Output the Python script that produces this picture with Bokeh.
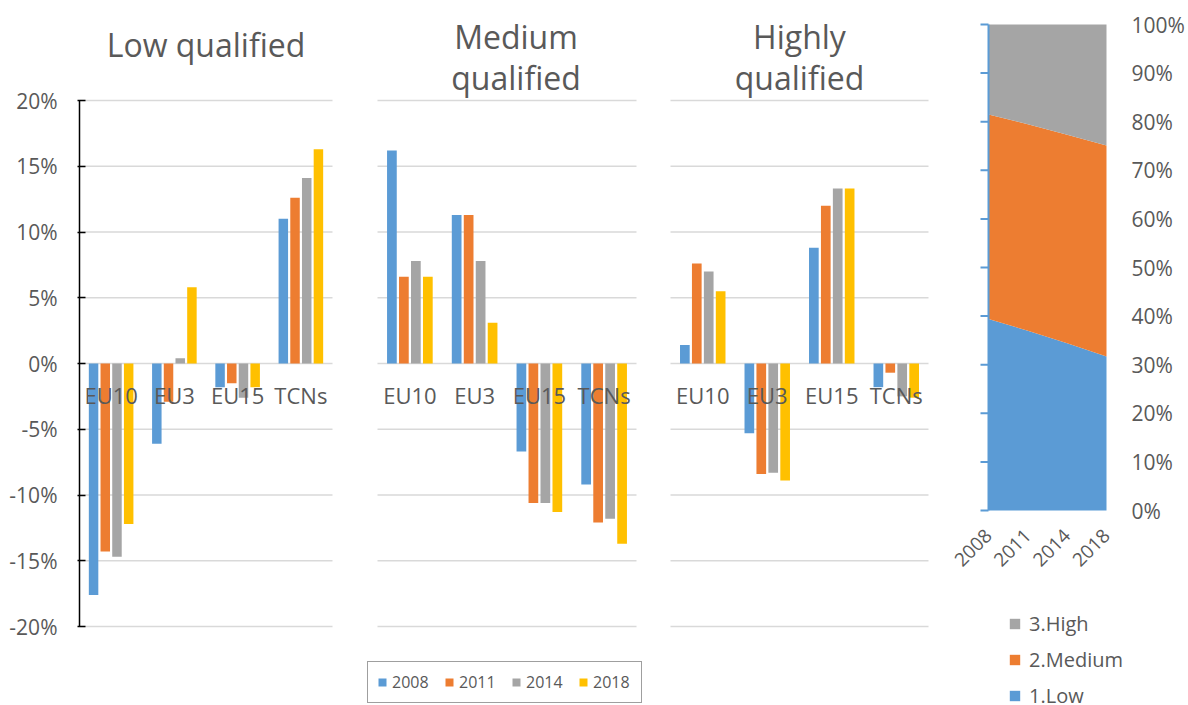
import math

import numpy as np
from bokeh.embed import file_html
from bokeh.resources import INLINE
from bokeh.layouts import row
from bokeh.plotting import figure
from bokeh.models import (ColumnDataSource, Range1d, FixedTicker, PrintfTickFormatter,
                          Legend, LegendItem)
from bokeh.core.properties import value

# ---- data -------------------------------------------------------------
categories = ["EU10", "EU3", "EU15", "TCNs"]
years = ["2008", "2011", "2014", "2018"]

# change in share, percentage points, by origin group
low_2008 = [-17.6, -6.1, -1.8, 11.0]
low_2011 = [-14.3, -2.9, -1.5, 12.6]
low_2014 = [-14.7, 0.4, -2.6, 14.1]
low_2018 = [-12.2, 5.8, -1.8, 16.3]

med_2008 = [16.2, 11.3, -6.7, -9.2]
med_2011 = [6.6, 11.3, -10.6, -12.1]
med_2014 = [7.8, 7.8, -10.6, -11.8]
med_2018 = [6.6, 3.1, -11.3, -13.7]

high_2008 = [1.4, -5.3, 8.8, -1.8]
high_2011 = [7.6, -8.4, 12.0, -0.7]
high_2014 = [7.0, -8.3, 13.3, -2.5]
high_2018 = [5.5, -8.9, 13.3, -2.6]

# qualification mix, percent of total
mix_years = ["2008", "2011", "2014", "2018"]
mix_low = [39.4, 37.0, 34.4, 31.7]
mix_medium = [42.1, 42.5, 42.9, 43.4]
mix_high = [18.5, 20.5, 22.7, 24.9]
mix_labels = ["3.High", "2.Medium", "1.Low"]

pct_ticks = [-20, -15, -10, -5, 0, 5, 10, 15, 20]
share_ticks = [0, 10, 20, 30, 40, 50, 60, 70, 80, 90, 100]

# ---- style ------------------------------------------------------------
FONT = "Open Sans"
TXT = "#595959"
GRID = "#D9D9D9"
COLORS = ["#5B9BD5", "#ED7D31", "#A5A5A5", "#FFC000"]
OFFSETS = [-0.2775, -0.0925, 0.0925, 0.2775]
BAR_W = 0.15
H = 705

# vertical scale of the bar panels: +-20 spans 526 px, 100 px above, 79 px below
BAR_PX = 526 / 40.0
BAR_Y = (-20 - 79 / BAR_PX, 20 + 100 / BAR_PX)


def bar_panel(title_lines, series, width, pad_left, pad_right, plot_w,
              axis=False, title_dx=0):
    """pad_left / pad_right: px between frame edge and category band."""
    per_cat = plot_w / len(categories)
    x0 = -pad_left / per_cat
    x1 = len(categories) + pad_right / per_cat
    p = figure(width=width, height=H, x_range=Range1d(x0, x1),
               y_range=Range1d(*BAR_Y), output_backend="svg", toolbar_location=None,
               min_border=0, min_border_left=79 if axis else 0)
    p.outline_line_color = None
    p.background_fill_color = "white"
    p.border_fill_color = "white"
    p.grid.visible = False
    p.xaxis.visible = False

    ax = p.yaxis[0]
    if axis:
        ax.ticker = FixedTicker(ticks=pct_ticks)
        ax.formatter = PrintfTickFormatter(format="%d%%")
        ax.bounds = (pct_ticks[0], pct_ticks[-1])
        ax.axis_line_color = "black"
        ax.axis_line_width = 1.5
        ax.major_tick_line_color = "black"
        ax.major_tick_line_width = 1.5
        ax.major_tick_in = 6
        ax.major_tick_out = 2
        ax.minor_tick_line_color = None
        ax.major_label_standoff = 20
        ax.major_label_text_font = FONT
        ax.major_label_text_font_size = "21px"
        ax.major_label_text_color = TXT
    else:
        ax.visible = False

    # horizontal gridlines across the category band
    p.segment(x0=0, x1=len(categories), y0=pct_ticks, y1=pct_ticks,
              line_color=GRID, line_width=1.5)

    pos = np.arange(len(categories)) + 0.5
    src = ColumnDataSource(dict(cat=categories, pos=pos, zero=[0] * len(categories)))
    renderers = []
    for vals, off, col in zip(series, OFFSETS, COLORS):
        r = p.vbar(x=pos + off, top=vals, bottom=0, width=BAR_W,
                   fill_color=col, line_color=None)
        renderers.append(r)

    p.text(x="pos", y="zero", text="cat", source=src,
           text_font=value(FONT), text_font_size="22px", text_color=TXT,
           text_align="center", text_baseline="middle", y_offset=31)

    # panel title above the top gridline
    centre = len(categories) / 2
    dys = [-56] if len(title_lines) == 1 else [-64, -23]
    for line, dy in zip(title_lines, dys):
        p.text(x=[centre], y=[pct_ticks[-1]], text=[line], text_font=value(FONT),
               text_font_size="32px", text_color=TXT, text_align="center",
               text_baseline="middle", x_offset=title_dx, y_offset=dy)
    return p, renderers


p_low, _ = bar_panel(["Low qualified"], [low_2008, low_2011, low_2014, low_2018],
                     345, 0, 13, 253, axis=True)
p_med, med_r = bar_panel(["Medium", "qualified"], [med_2008, med_2011, med_2014, med_2018],
                         301, 32, 10, 259, title_dx=9)
p_high, _ = bar_panel(["Highly", "qualified"], [high_2008, high_2011, high_2014, high_2018],
                      294, 24, 12, 258)

year_legend = Legend(items=[LegendItem(label=y, renderers=[r]) for y, r in zip(years, med_r)],
                     orientation="horizontal", location=(22, 2),
                     label_text_font=FONT, label_text_font_size="16px",
                     label_text_color=TXT, glyph_width=10, glyph_height=10,
                     label_standoff=5, label_width=39, label_height=18, spacing=13,
                     padding=9, border_line_color="#404040", border_line_width=1,
                     background_fill_color="white", background_fill_alpha=1)
p_med.add_layout(year_legend, "center")

# ---- qualification mix, 100% stacked area -----------------------------
MIX_LEFT, MIX_W, MIX_TOP, MIX_BOTTOM = 48, 118, 24, 510
step_px = MIX_W / (len(mix_years) - 1)
share_px = (MIX_BOTTOM - MIX_TOP) / 100.0
mix = figure(width=248, height=H,
             x_range=Range1d(-MIX_LEFT / step_px, (248 - MIX_LEFT) / step_px),
             y_range=Range1d(-(H - MIX_BOTTOM) / share_px, 100 + MIX_TOP / share_px),
             output_backend="svg", toolbar_location=None, min_border=0)
mix.outline_line_color = None
mix.grid.visible = False
mix.axis.visible = False
mix.border_fill_color = "white"

xs = list(range(len(mix_years)))
msrc = ColumnDataSource(dict(x=xs, low=mix_low, medium=mix_medium, high=mix_high))
areas = mix.varea_stack(["low", "medium", "high"], x="x", source=msrc,
                        color=["#5B9BD5", "#ED7D31", "#A5A5A5"])

# left value axis: blue line with outward ticks
mix.segment(x0=0, x1=0, y0=share_ticks[0], y1=share_ticks[-1],
            line_color="#5B9BD5", line_width=2)
mix.ray(x=0, y=share_ticks, length=8, length_units="screen", angle=math.pi,
        line_color="#5B9BD5", line_width=2)

# right value labels
mix.text(x=xs[-1], y=share_ticks, text=[f"{t}%" for t in share_ticks],
         text_font=value(FONT), text_font_size="21px", text_color=TXT,
         text_align="left", text_baseline="middle", x_offset=25)

# slanted year labels
mix.text(x=xs, y=[0] * len(xs), text=mix_years, angle=math.pi / 4,
         text_font=value(FONT), text_font_size="19px", text_color=TXT,
         text_align="right", text_baseline="middle", y_offset=22)

mix_legend = Legend(items=[LegendItem(label=mix_labels[0], renderers=[areas[2]]),
                           LegendItem(label=mix_labels[1], renderers=[areas[1]]),
                           LegendItem(label=mix_labels[2], renderers=[areas[0]])],
                    location=(68, -4), orientation="vertical",
                    label_text_font=FONT, label_text_font_size="20px",
                    label_text_color=TXT, glyph_width=13, glyph_height=13,
                    label_height=24, label_standoff=8, spacing=9, padding=0,
                    border_line_color=None, background_fill_alpha=0)
mix.add_layout(mix_legend, "center")

layout = row(p_low, p_med, p_high, mix, spacing=0)

open("out.html", "w").write(file_html(layout, INLINE))
